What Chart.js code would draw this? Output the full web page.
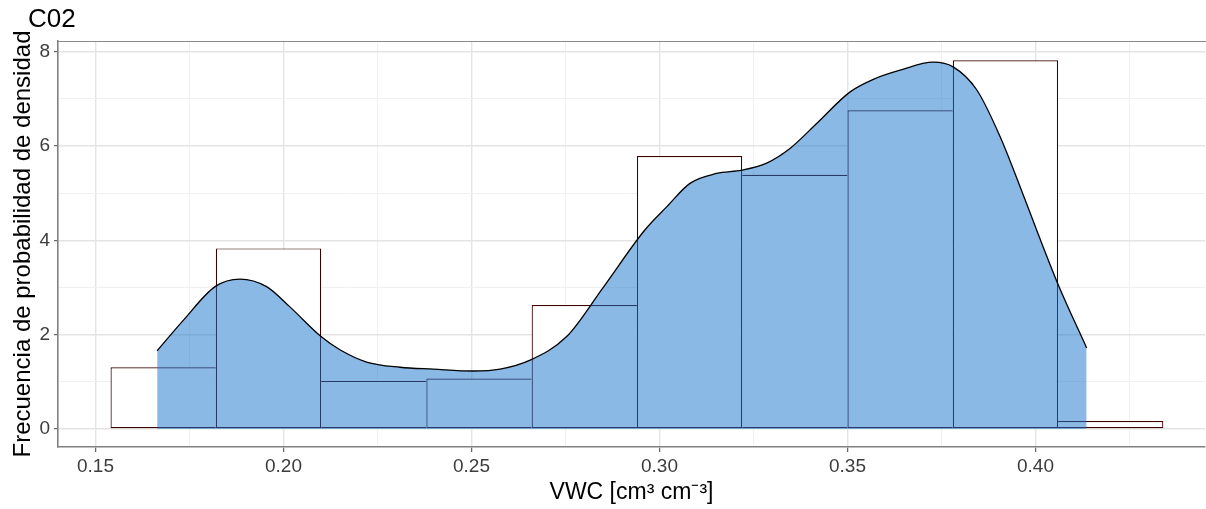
<!DOCTYPE html>
<html lang="es">
  <head>
    <meta charset="UTF-8" />
    <title>C02 - Histograma y densidad</title>
    <style>
      html, body { margin: 0; padding: 0; background: #fff; }
      #myChart { display: block; }
    </style>
  </head>
  <body>
    <canvas id="myChart" width="1206" height="509"></canvas>
    <script src="https://cdn.jsdelivr.net/npm/chart.js@4.4.1/dist/chart.umd.min.js"></script>
    <script>
      // histogram bins (VWC) and their density heights
      const binEdges = [0.154, 0.182, 0.210, 0.238, 0.266, 0.294, 0.322, 0.350, 0.378, 0.406, 0.434];
      const binDensity = [1.31, 3.83, 1.02, 1.07, 2.63, 5.79, 5.39, 6.76, 7.82, 0.17];

      // kernel density curve
      const densX = [0.1664, 0.1734, 0.1818, 0.1884, 0.1955, 0.2017, 0.2100, 0.2150, 0.2221, 0.2310,
                     0.2398, 0.2505, 0.2576, 0.2656, 0.2753, 0.2850, 0.2961, 0.3019, 0.3081, 0.3152,
                     0.3219, 0.3285, 0.3347, 0.3418, 0.3507, 0.3570, 0.3640, 0.3728, 0.3781, 0.3844,
                     0.3906, 0.3959, 0.4003, 0.4061, 0.4136];
      const densY = [1.66, 2.31, 3.02, 3.18, 3.02, 2.59, 1.96, 1.68, 1.42, 1.31,
                     1.27, 1.23, 1.27, 1.46, 1.96, 3.00, 4.22, 4.71, 5.21, 5.42,
                     5.49, 5.64, 5.95, 6.48, 7.15, 7.42, 7.61, 7.78, 7.68, 7.19,
                     6.20, 5.14, 4.22, 3.05, 1.72];

      const xTicks = [0.15, 0.175, 0.20, 0.225, 0.25, 0.275, 0.30, 0.325, 0.35, 0.375, 0.40, 0.425];
      const yTicks = [0, 1, 2, 3, 4, 5, 6, 7, 8];

      const FONT = "'Liberation Sans', Arial, sans-serif";
      const isMajorX = (v) => Math.round(v * 1000) % 50 === 0;
      const isMajorY = (v) => v % 2 === 0;
      const tickVal = (c) => (c && c.tick ? c.tick.value : null);

      const histData = binDensity.map((h, i) => ({ x: (binEdges[i] + binEdges[i + 1]) / 2, y: h }));
      const densData = densX.map((x, i) => ({ x: x, y: densY[i] }));

      // draw each shared bar edge only once (by the taller bar)
      function barBorder(ctx) {
        const i = ctx.dataIndex;
        if (i === undefined) return 1;
        const h = binDensity[i];
        const prev = i > 0 ? binDensity[i - 1] : -1;
        const next = i < binDensity.length - 1 ? binDensity[i + 1] : -1;
        return {
          top: 1.2,
          bottom: 1.2,
          left: h >= prev ? 1.2 : 0,
          right: h > next ? 1.2 : 0,
        };
      }

      function gridStyle(isMajor, major, minor) {
        return (c) => {
          const v = tickVal(c);
          if (v === null) return minor;
          return isMajor(v) ? major : minor;
        };
      }

      const extras = {
        id: 'extras',
        afterDraw(chart) {
          const { ctx, chartArea } = chart;
          ctx.save();
          ctx.strokeStyle = '#8a8a8a';
          ctx.lineWidth = 1.2;
          ctx.beginPath();
          ctx.moveTo(chartArea.left, chartArea.top + 0.5);
          ctx.lineTo(chartArea.right + 1, chartArea.top + 0.5);
          ctx.stroke();
          ctx.fillStyle = '#000';
          ctx.font = '26px ' + FONT;
          ctx.textBaseline = 'alphabetic';
          ctx.fillText('C02', 28, 27);
          ctx.restore();
        },
      };

      const config = {
        data: {
          datasets: [
            {
              type: 'line',
              label: 'densidad',
              data: densData,
              order: 0,
              borderColor: '#000',
              borderWidth: 1.3,
              backgroundColor: 'rgba(24, 116, 205, 0.5)',
              fill: 'origin',
              pointRadius: 0,
              cubicInterpolationMode: 'monotone',
            },
            {
              type: 'bar',
              label: 'histograma',
              data: histData,
              order: 1,
              backgroundColor: '#ffffff',
              borderColor: '#3d0000',
              borderWidth: barBorder,
              borderSkipped: false,
              inflateAmount: 0,
              barThickness: 'flex',
              barPercentage: 1,
              categoryPercentage: 1,
            },
          ],
        },
        options: {
          responsive: false,
          animation: false,
          layout: { padding: { top: 41, right: 1, left: 0, bottom: 0 } },
          plugins: {
            legend: { display: false },
            tooltip: { enabled: false },
          },
          scales: {
            x: {
              type: 'linear',
              min: 0.14003,
              max: 0.44508,
              offset: false,
              afterBuildTicks: (scale) => { scale.ticks = xTicks.map((v) => ({ value: v })); },
              afterFit: (scale) => { scale.height = 62; },
              ticks: {
                autoSkip: false,
                maxRotation: 0,
                padding: 3,
                color: '#3d3d3d',
                font: { family: FONT, size: 19 },
                callback: (v) => (isMajorX(v) ? v.toFixed(2) : ''),
              },
              grid: {
                offset: false,
                color: gridStyle(isMajorX, '#e4e4e4', '#f0f0f0'),
                lineWidth: gridStyle(isMajorX, 1.4, 1),
                tickColor: gridStyle(isMajorX, '#444', 'rgba(0,0,0,0)'),
                tickLength: 5,
                tickWidth: 1,
              },
              border: { display: true, color: '#808080', width: 1.6 },
              title: {
                display: true,
                text: 'VWC [cm³ cm⁻³]',
                color: '#000',
                font: { family: FONT, size: 23 },
                padding: { top: 0, bottom: 3 },
              },
            },
            y: {
              type: 'linear',
              min: -0.3818,
              max: 8.229,
              afterBuildTicks: (scale) => { scale.ticks = yTicks.map((v) => ({ value: v })); },
              afterFit: (scale) => { scale.width = 58; },
              ticks: {
                autoSkip: false,
                padding: 4,
                color: '#3d3d3d',
                font: { family: FONT, size: 19 },
                callback: (v) => (isMajorY(v) ? String(v) : ''),
              },
              grid: {
                color: gridStyle(isMajorY, '#e4e4e4', '#f0f0f0'),
                lineWidth: gridStyle(isMajorY, 1.4, 1),
                tickColor: gridStyle(isMajorY, '#444', 'rgba(0,0,0,0)'),
                tickLength: 4,
                tickWidth: 1,
              },
              border: { display: true, color: '#808080', width: 1.6 },
              title: {
                display: true,
                text: 'Frecuencia de probabilidad de densidad',
                color: '#000',
                font: { family: FONT, size: 24 },
                padding: { top: 9, bottom: 0 },
              },
            },
          },
        },
        plugins: [extras],
      };

      const myChart = new Chart(document.getElementById('myChart'), config);
    </script>
  </body>
</html>
